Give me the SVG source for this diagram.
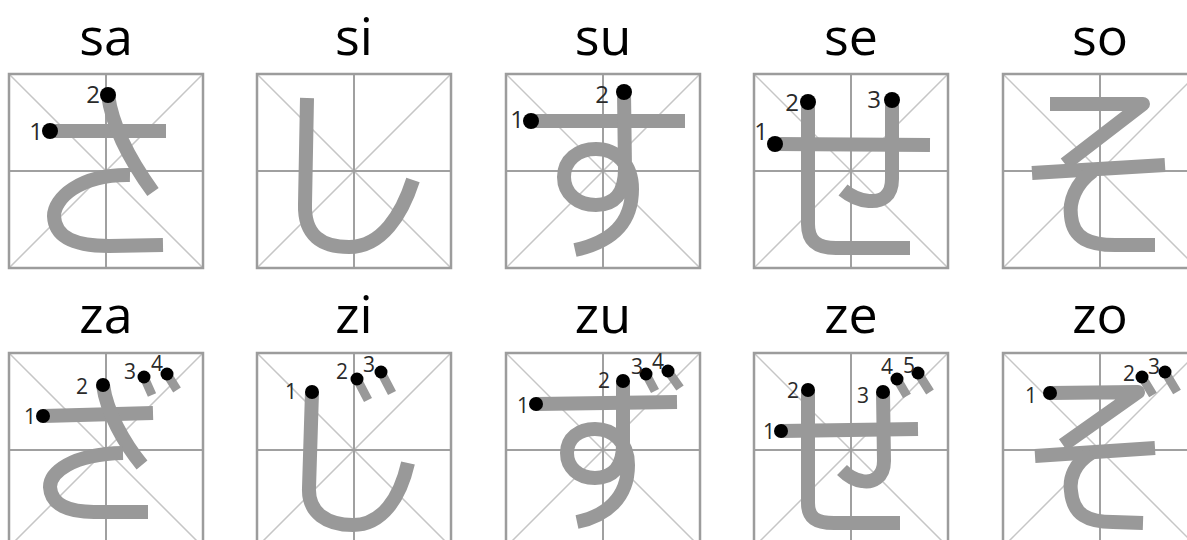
<svg xmlns="http://www.w3.org/2000/svg" xmlns:xlink="http://www.w3.org/1999/xlink" width="1187" height="540" viewBox="0 0 1187 540">
<style>
.bg{fill:#fff}
.frame{fill:none;stroke:#9c9c9c;stroke-width:2.5}
.cross{stroke:#a0a0a0;stroke-width:2}
.diag{stroke:#c6c6c6;stroke-width:1.5}
.stk{fill:none;stroke:#999;stroke-width:14;stroke-linecap:butt;stroke-linejoin:round}
.dk{fill:none;stroke:#999;stroke-width:9;stroke-linecap:butt}
.dot{fill:#000}
.num{font-family:"Open Sans","Liberation Sans",sans-serif;fill:#2a2a2a;text-anchor:end}
.n1{font-size:24px}
.n2{font-size:21px}
.lbl{font-family:"Open Sans","Liberation Sans",sans-serif;font-size:52px;fill:#000;text-anchor:middle}
</style>
<defs>
<g id="grid">
<rect class="bg" x="0" y="0" width="194" height="194"/>
<line class="diag" x1="0" y1="0" x2="194" y2="194"/>
<line class="diag" x1="194" y1="0" x2="0" y2="194"/>
<line class="cross" x1="97" y1="0" x2="97" y2="194"/>
<line class="cross" x1="0" y1="97" x2="194" y2="97"/>
<rect class="frame" x="0" y="0" width="194" height="194"/>
</g>
</defs>
<rect width="1187" height="540" fill="#fff"/>
<g id="labels">
<text class="lbl" x="106" y="55">sa</text>
<text class="lbl" x="354" y="55">si</text>
<text class="lbl" x="603" y="55">su</text>
<text class="lbl" x="851" y="55">se</text>
<text class="lbl" x="1100" y="55">so</text>
<text class="lbl" x="106" y="333">za</text>
<text class="lbl" x="354" y="333">zi</text>
<text class="lbl" x="603" y="333">zu</text>
<text class="lbl" x="851" y="333">ze</text>
<text class="lbl" x="1100" y="333">zo</text>
</g>
<g id="connectors"></g>
<g id="sa" transform="translate(9,74)">
<use xlink:href="#grid"/>
<path class="stk" d="M41,57 L157,57"/>
<path class="stk" d="M99,21 C103,50 120,85 144,118"/>
<path class="stk" d="M121,101 C70,100 45,125 45,142 C46,165 68,172 100,172 L154,171"/>
<circle class="dot" cx="41" cy="57" r="8"/>
<circle class="dot" cx="99" cy="21" r="8"/>
<text class="num n1" x="34" y="66">1</text>
<text class="num n1" x="91" y="29">2</text>
</g>
<g id="si" transform="translate(257,74)">
<use xlink:href="#grid"/>
<path class="stk" d="M50,24 L48,130 C47,162 65,173 92,173 C125,173 145,140 156,106"/>
</g>
<g id="su" transform="translate(506,74)">
<use xlink:href="#grid"/>
<path class="stk" d="M25,47 L179,47"/>
<path class="stk" d="M118,18 L119,95 C119,120 108,131 90,131 C72,131 58,120 58,103 C58,86 72,75 90,75 C110,75 126,90 126,115 C126,150 105,168 69,176"/>
<circle class="dot" cx="25" cy="47" r="8"/>
<circle class="dot" cx="118" cy="18" r="8"/>
<text class="num n1" x="18" y="54">1</text>
<text class="num n1" x="103" y="29">2</text>
</g>
<g id="se" transform="translate(754,74)">
<use xlink:href="#grid"/>
<path class="stk" d="M21,70 L176,71"/>
<path class="stk" d="M54,28 L54,150 C54,167 63,174 82,174 L156,174"/>
<path class="stk" d="M138,26 L138,105 C138,122 128,128 115,127 C103,126 95,121 89,116"/>
<circle class="dot" cx="21" cy="70" r="8"/>
<circle class="dot" cx="54" cy="28" r="8"/>
<circle class="dot" cx="138" cy="26" r="8"/>
<text class="num n1" x="14" y="66">1</text>
<text class="num n1" x="45" y="37">2</text>
<text class="num n1" x="127" y="34">3</text>
</g>
<g id="so" transform="translate(1003,74)">
<use xlink:href="#grid"/>
<path class="stk" d="M47,30 L140,30 L62,90"/>
<path class="stk" d="M29,99 L162,91"/>
<path class="stk" d="M90,97 C72,110 66,128 68,142 C70,165 87,171 112,171 L152,171"/>
</g>
<g id="za" transform="translate(9,353)">
<use xlink:href="#grid"/>
<path class="stk" d="M34,63 L144,60"/>
<path class="stk" d="M94,32 C98,60 115,90 133,112"/>
<path class="stk" d="M114,100 C62,101 41,120 41,134 C42,152 60,159 85,159 L139,159"/>
<path class="dk" d="M135,24 L143,42 M158,21 L168,37"/>
<circle class="dot" cx="34" cy="63" r="7"/>
<circle class="dot" cx="94" cy="32" r="7"/>
<circle class="dot" cx="135" cy="24" r="6.5"/>
<circle class="dot" cx="158" cy="21" r="6.5"/>
<text class="num n2" x="27" y="71">1</text>
<text class="num n2" x="79" y="41">2</text>
<text class="num n2" x="127" y="26">3</text>
<text class="num n2" x="154" y="18">4</text>
</g>
<g id="zi" transform="translate(257,353)">
<use xlink:href="#grid"/>
<path class="stk" d="M55,39 L52,135 C51,160 70,172 96,172 C125,172 143,145 151,110"/>
<path class="dk" d="M100,26 L111,47 M124,19 L135,40"/>
<circle class="dot" cx="55" cy="39" r="7"/>
<circle class="dot" cx="100" cy="26" r="6.5"/>
<circle class="dot" cx="124" cy="19" r="6.5"/>
<text class="num n2" x="40" y="46">1</text>
<text class="num n2" x="91" y="26">2</text>
<text class="num n2" x="118" y="19">3</text>
</g>
<g id="zu" transform="translate(506,353)">
<use xlink:href="#grid"/>
<path class="stk" d="M30,51 L171,49"/>
<path class="stk" d="M117,28 L117,92 C117,115 106,125 89,125 C72,125 61,114 61,100 C61,85 73,76 89,76 C107,76 122,89 122,112 C122,145 100,163 71,169"/>
<path class="dk" d="M140,21 L149,38 M162,18 L174,35"/>
<circle class="dot" cx="30" cy="51" r="7"/>
<circle class="dot" cx="117" cy="28" r="7"/>
<circle class="dot" cx="140" cy="21" r="6.5"/>
<circle class="dot" cx="162" cy="18" r="6.5"/>
<text class="num n2" x="23" y="60">1</text>
<text class="num n2" x="104" y="35">2</text>
<text class="num n2" x="137" y="21">3</text>
<text class="num n2" x="158" y="16">4</text>
</g>
<g id="ze" transform="translate(754,353)">
<use xlink:href="#grid"/>
<path class="stk" d="M27,78 L164,76"/>
<path class="stk" d="M54,37 L54,150 C54,165 62,170 80,170 L146,170"/>
<path class="stk" d="M129,39 L130,108 C130,125 118,130 108,128 C100,127 93,122 88,117"/>
<path class="dk" d="M143,26 L153,43 M164,20 L176,39"/>
<circle class="dot" cx="27" cy="78" r="7"/>
<circle class="dot" cx="54" cy="37" r="7"/>
<circle class="dot" cx="129" cy="39" r="7"/>
<circle class="dot" cx="143" cy="26" r="6.5"/>
<circle class="dot" cx="164" cy="20" r="6.5"/>
<text class="num n2" x="21" y="86">1</text>
<text class="num n2" x="45" y="45">2</text>
<text class="num n2" x="115" y="50">3</text>
<text class="num n2" x="139" y="21">4</text>
<text class="num n2" x="161" y="20">5</text>
</g>
<g id="zo" transform="translate(1003,353)">
<use xlink:href="#grid"/>
<path class="stk" d="M47,40 L135,39 L60,92"/>
<path class="stk" d="M32,103 L152,95"/>
<path class="stk" d="M88,100 C72,110 66,125 68,138 C70,162 85,169 110,169 L140,170"/>
<path class="dk" d="M139,24 L150,42 M162,19 L174,39"/>
<circle class="dot" cx="47" cy="40" r="7"/>
<circle class="dot" cx="139" cy="24" r="6.5"/>
<circle class="dot" cx="162" cy="19" r="6.5"/>
<text class="num n2" x="34" y="50">1</text>
<text class="num n2" x="132" y="28">2</text>
<text class="num n2" x="157" y="21">3</text>
</g>
</svg>
